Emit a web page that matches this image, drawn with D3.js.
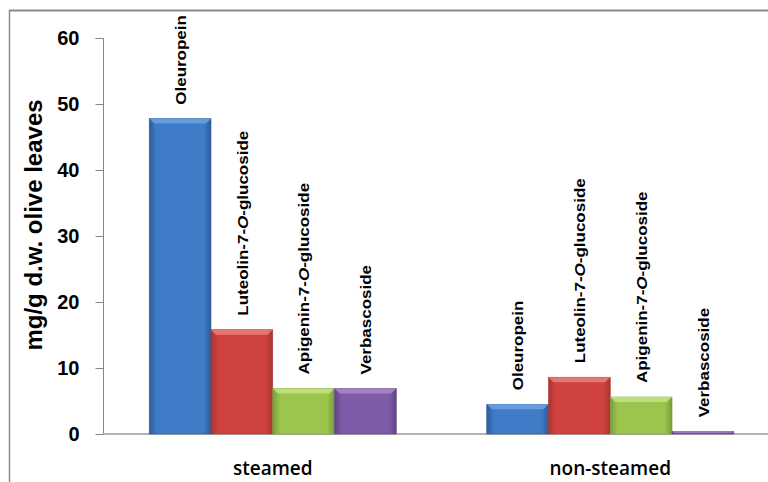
<!DOCTYPE html>
<html>
<head>
<meta charset="utf-8">
<script src="https://cdn.jsdelivr.net/npm/d3@7"></script>
<style>
  html, body { margin: 0; padding: 0; background: #fff; }
  svg { display: block; font-family: "Liberation Sans", Arial, sans-serif; }
</style>
</head>
<body>
<svg id="chart" width="768" height="482"></svg>
<script>
// ---- data ----
const categories = ["steamed", "non-steamed"];
const compounds = ["Oleuropein", "Luteolin-7-O-glucoside", "Apigenin-7-O-glucoside", "Verbascoside"];
const steamedValues = [47.8, 15.8, 6.9, 6.9];
const nonSteamedValues = [4.5, 8.6, 5.6, 0.4];
const yTicks = [0, 10, 20, 30, 40, 50, 60];
const yTitle = "mg/g d.w. olive leaves";

const seriesValues = [steamedValues, nonSteamedValues];
const palette = [
  { main: "#3f7bc6", dark: "#2d5c98", light: "#6ea2e0" },
  { main: "#cf423e", dark: "#a93532", light: "#e9807c" },
  { main: "#9cc54d", dark: "#7a9c3a", light: "#c4e382" },
  { main: "#7e5ba6", dark: "#5f4482", light: "#a88bcb" }
];

const svg = d3.select("#chart");

// frame (top and left borders of the chart area)
svg.append("line").attr("x1", 9).attr("x2", 768).attr("y1", 10.5).attr("y2", 10.5)
  .attr("stroke", "#8a8a8a").attr("stroke-width", 2);
svg.append("line").attr("x1", 9.5).attr("x2", 9.5).attr("y1", 10).attr("y2", 482)
  .attr("stroke", "#8a8a8a").attr("stroke-width", 1.5);

const y = d3.scaleLinear().domain([0, 60]).range([434, 38]);
const x0 = d3.scaleBand().domain(categories).range([104, 779])
  .paddingInner(0.268).paddingOuter(0.134);
const x1 = d3.scaleBand().domain(compounds).range([0, x0.bandwidth()]).padding(0);

// defs: gradients
const defs = svg.append("defs");
palette.forEach((c, i) => {
  const g = defs.append("linearGradient").attr("id", "g" + i)
    .attr("x1", "0").attr("x2", "1").attr("y1", "0").attr("y2", "0");
  g.append("stop").attr("offset", "0").attr("stop-color", c.dark);
  g.append("stop").attr("offset", "0.12").attr("stop-color", c.main);
  g.append("stop").attr("offset", "0.88").attr("stop-color", c.main);
  g.append("stop").attr("offset", "1").attr("stop-color", c.dark);
});

// y axis
const yAxis = d3.axisLeft(y).tickValues(yTicks).tickSize(8).tickPadding(16);
const ya = svg.append("g").attr("transform", "translate(103.5,0)").call(yAxis);
ya.select(".domain").attr("stroke", "#868686").attr("d", "M-8," + (y(60) + 0.5) + "H0V" + y(0));
ya.selectAll(".tick line").attr("stroke", "#868686");
ya.selectAll(".tick text").attr("fill", "#000").attr("font-size", 20).attr("font-weight", "bold")
  .attr("font-family", "Liberation Sans, Arial, sans-serif");

// baseline
svg.append("line").attr("x1", 103).attr("x2", 768).attr("y1", 434).attr("y2", 434)
  .attr("stroke", "#9a9a9a").attr("stroke-width", 1.5);

// bars
const groups = svg.append("g").selectAll("g").data(categories).join("g")
  .attr("transform", d => `translate(${x0(d)},0)`);

groups.each(function(cat, ci) {
  const g = d3.select(this);
  compounds.forEach((comp, si) => {
    const v = seriesValues[ci][si];
    const bx = x1(comp), bw = x1.bandwidth();
    const top = y(v), h = y(0) - y(v);
    const c = palette[si];
    g.append("rect").attr("x", bx).attr("y", top).attr("width", bw).attr("height", h)
      .attr("fill", "url(#g" + si + ")").attr("stroke", c.dark).attr("stroke-width", 0.6);
    const bev = Math.min(5, h / 2);
    if (bev > 1) {
      g.append("path")
        .attr("d", `M${bx},${top}H${bx + bw}L${bx + bw - bev},${top + bev}H${bx + bev}Z`)
        .attr("fill", c.light).attr("opacity", 0.85);
    }
    // label
    const lbl = g.append("text")
      .attr("font-size", 17).attr("font-weight", "bold").attr("fill", "#000")
      .attr("dominant-baseline", "central");
    const parts = comp.split("-O-");
    if (parts.length === 2) {
      lbl.append("tspan").text(parts[0] + "-");
      lbl.append("tspan").attr("font-style", "italic").text("O");
      lbl.append("tspan").text("-" + parts[1]);
    } else {
      lbl.text(comp);
    }
    const len = lbl.node().getComputedTextLength();
    let bottom = top - 14;
    if (bottom - len < 15) bottom = 15 + len;
    lbl.attr("transform", `translate(${bx + bw / 2},${bottom}) rotate(-90) scale(1,0.9)`);
  });
});

// category labels
svg.append("g").selectAll("text").data(categories).join("text")
  .attr("x", d => x0(d) + x0.bandwidth() / 2)
  .attr("y", 475)
  .attr("text-anchor", "middle")
  .attr("font-family", "'Open Sans', 'Liberation Sans', sans-serif")
  .attr("font-weight", 600)
  .attr("font-size", 19)
  .attr("fill", "#000")
  .text(d => d);

// y title
svg.append("text")
  .attr("transform", "translate(33,225) rotate(-90)")
  .attr("text-anchor", "middle")
  .attr("dominant-baseline", "central")
  .attr("font-size", 24)
  .attr("font-weight", "bold")
  .attr("fill", "#000")
  .text(yTitle);
</script>
</body>
</html>
